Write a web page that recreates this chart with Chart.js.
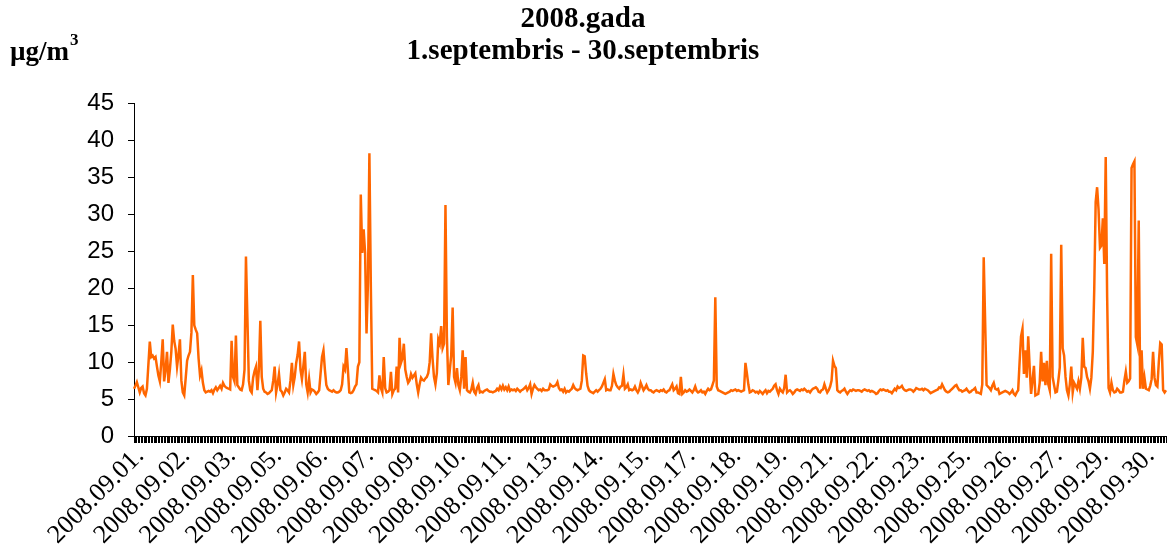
<!DOCTYPE html>
<html>
<head>
<meta charset="utf-8">
<script src="https://cdn.jsdelivr.net/npm/chart.js@4.4.1/dist/chart.umd.min.js"></script>
<style>
  body { margin: 0; background: #fff; }
  #wrap { width: 1168px; height: 544px; }
</style>
</head>
<body>
<div id="wrap"><canvas id="myChart"></canvas></div>
<script>
// hourly values, 1.-30. september 2008, one row per day (24 h)
var pm10 = [
  6.4, 6.8, 7.3, 6.6, 5.9, 6.5, 6.7, 5.8, 5.5, 6.4, 9.6, 12.8, 10.7, 10.9, 10.5, 10.7, 9.4, 8.2, 7.4, 10.0, 13.1, 7.4, 9.0, 11.4,
  7.2, 9.0, 11.4, 15.1, 12.9, 11.8, 9.4, 11.0, 13.1, 7.5, 5.9, 5.5, 7.8, 10.2, 10.9, 11.4, 14.0, 21.8, 15.0, 14.4, 13.9, 10.5, 8.2, 8.9,
  7.2, 6.2, 5.9, 6.0, 6.1, 6.0, 6.2, 5.8, 6.3, 6.6, 6.2, 6.5, 6.8, 6.4, 7.2, 6.8, 6.6, 6.5, 6.4, 6.3, 12.9, 8.0, 7.4, 13.6,
  6.9, 6.6, 6.3, 6.2, 7.0, 9.0, 24.3, 16.0, 7.5, 6.2, 5.9, 7.9, 8.8, 9.4, 6.2, 9.0, 15.6, 8.0, 6.4, 6.0, 5.9, 5.7, 5.8, 6.0,
  6.2, 7.5, 9.4, 5.9, 7.0, 8.4, 6.2, 6.0, 5.5, 5.9, 6.4, 6.2, 5.9, 7.5, 9.9, 6.9, 8.0, 9.9, 11.0, 12.8, 9.0, 7.7, 9.5, 11.4,
  7.0, 5.9, 7.7, 5.9, 6.3, 6.2, 6.0, 5.7, 5.9, 6.2, 8.5, 10.7, 11.6, 9.0, 6.9, 6.4, 6.2, 6.1, 6.0, 6.2, 6.0, 5.9, 5.9, 6.0,
  6.2, 7.0, 9.4, 9.0, 11.9, 9.0, 5.9, 5.8, 5.9, 6.2, 6.7, 7.0, 9.4, 10.0, 32.7, 24.8, 28.0, 24.8, 13.9, 20.8, 38.3, 20.3, 6.4, 6.3,
  6.2, 6.1, 5.9, 8.2, 6.5, 5.9, 10.7, 6.5, 5.9, 6.0, 6.2, 8.7, 5.7, 6.2, 6.4, 9.4, 5.9, 13.3, 9.9, 10.5, 12.5, 9.0, 8.0, 7.2,
  7.5, 8.4, 7.9, 8.2, 8.5, 7.0, 5.9, 7.0, 7.9, 7.6, 7.5, 7.8, 8.0, 8.5, 10.0, 13.9, 10.5, 8.0, 7.0, 8.5, 13.1, 12.5, 14.9, 11.9,
  12.5, 31.3, 13.4, 6.9, 8.9, 10.9, 17.4, 8.0, 7.2, 9.2, 6.9, 6.2, 8.0, 11.6, 6.4, 10.7, 6.2, 6.0, 5.9, 6.3, 7.2, 6.0, 5.7, 6.5,
  6.9, 5.9, 6.0, 5.9, 6.1, 6.2, 6.3, 6.1, 6.0, 6.0, 5.9, 6.0, 6.1, 6.4, 6.2, 6.7, 6.3, 6.8, 6.3, 6.6, 6.2, 6.7, 6.1, 6.3,
  6.2, 6.3, 6.1, 6.4, 6.2, 6.0, 6.2, 6.3, 6.5, 6.7, 6.2, 6.5, 7.0, 5.7, 6.4, 6.9, 6.6, 6.4, 6.2, 6.3, 6.1, 6.4, 6.2, 6.2,
  6.2, 6.3, 7.0, 6.8, 6.7, 6.8, 6.9, 7.3, 6.5, 6.2, 6.3, 6.0, 6.4, 5.9, 6.1, 6.0, 6.2, 6.4, 6.9, 6.5, 6.3, 6.2, 6.3, 6.4,
  7.5, 10.9, 10.8, 8.5, 6.8, 6.2, 6.0, 5.9, 5.8, 6.0, 6.2, 6.0, 6.2, 6.4, 6.7, 7.2, 7.7, 6.2, 6.3, 6.2, 6.2, 6.8, 8.4, 7.5,
  6.9, 6.6, 6.4, 6.7, 6.8, 8.3, 6.4, 6.6, 7.0, 6.2, 6.3, 6.2, 6.3, 6.7, 6.2, 5.9, 6.3, 7.2, 6.7, 6.2, 6.5, 6.9, 6.4, 6.2,
  6.2, 6.0, 5.9, 6.1, 6.2, 6.1, 6.0, 6.2, 6.1, 6.3, 6.0, 5.9, 6.1, 6.2, 6.6, 7.0, 6.2, 6.4, 6.7, 5.8, 5.7, 8.0, 5.7, 5.9,
  6.2, 6.0, 6.1, 6.3, 6.1, 5.9, 6.2, 6.7, 6.1, 5.9, 6.0, 6.2, 5.9, 6.0, 5.7, 6.1, 6.4, 6.2, 6.3, 6.9, 7.5, 18.8, 6.7, 6.2,
  6.1, 6.0, 5.9, 5.8, 5.7, 5.8, 5.9, 6.0, 6.2, 6.1, 6.2, 6.3, 6.1, 6.2, 6.1, 6.0, 6.1, 6.2, 9.9, 8.5, 7.0, 5.9, 6.0, 6.2,
  6.1, 5.9, 6.0, 5.8, 6.1, 5.9, 5.7, 6.0, 6.2, 5.8, 6.1, 6.0, 6.2, 6.4, 6.8, 7.0, 6.2, 5.7, 6.4, 6.1, 5.9, 6.5, 8.3, 5.9,
  6.1, 6.2, 6.0, 5.7, 5.9, 6.2, 6.3, 6.2, 6.1, 6.3, 6.2, 6.4, 6.2, 6.0, 6.1, 5.9, 6.2, 6.4, 6.5, 6.6, 6.4, 6.0, 5.9, 6.2,
  6.3, 7.0, 6.4, 5.9, 6.2, 6.7, 7.5, 10.2, 9.5, 9.2, 6.2, 6.0, 5.9, 6.1, 6.2, 6.4, 6.0, 5.7, 6.0, 6.2, 6.1, 6.3, 6.2, 6.1,
  6.2, 6.2, 6.1, 6.0, 6.2, 6.3, 6.2, 6.1, 6.2, 6.0, 6.1, 6.0, 5.9, 5.7, 5.8, 6.1, 6.3, 6.2, 6.3, 6.2, 6.1, 6.2, 6.0, 6.0,
  5.8, 6.1, 6.4, 6.2, 6.7, 6.5, 6.6, 6.8, 6.4, 6.2, 6.1, 6.2, 6.3, 6.3, 6.2, 6.0, 6.2, 6.5, 6.4, 6.3, 6.3, 6.4, 6.2, 6.4,
  6.3, 6.2, 6.0, 5.8, 5.9, 6.0, 6.1, 6.2, 6.3, 6.6, 6.5, 7.0, 6.6, 6.2, 6.0, 5.9, 6.0, 6.2, 6.4, 6.6, 6.8, 6.9, 6.5, 6.2,
  6.2, 6.0, 6.1, 6.2, 6.4, 6.1, 5.9, 6.0, 6.2, 6.3, 6.5, 5.9, 5.9, 5.8, 5.7, 7.0, 24.2, 15.4, 6.9, 6.7, 6.5, 6.2, 6.8, 7.2,
  6.4, 6.3, 6.4, 5.7, 5.8, 5.9, 6.0, 6.1, 6.0, 5.9, 5.7, 5.9, 6.2, 5.7, 5.5, 5.9, 6.2, 10.0, 13.5, 14.5, 8.4, 11.6, 7.9, 13.5,
  9.4, 5.7, 7.5, 9.5, 5.5, 5.6, 5.7, 7.2, 11.4, 7.4, 9.9, 6.9, 10.2, 7.0, 6.2, 24.7, 8.0, 6.9, 5.9, 6.0, 7.5, 9.3, 25.9, 11.9,
  10.9, 8.0, 6.2, 5.5, 7.0, 9.4, 5.9, 7.2, 6.8, 6.4, 7.4, 6.4, 7.9, 13.3, 9.4, 9.2, 8.0, 7.4, 6.4, 7.9, 11.4, 19.8, 31.7, 33.7,
  30.7, 25.5, 25.8, 29.5, 23.3, 37.8, 18.8, 6.5, 5.9, 7.2, 6.2, 5.9, 6.0, 6.4, 6.2, 5.9, 5.9, 6.0, 7.5, 8.7, 7.2, 7.4, 7.8, 36.3,
  36.8, 37.2, 13.4, 12.4, 29.2, 6.4, 11.6, 6.4, 7.9, 6.4, 6.3, 6.2, 6.8, 7.7, 11.4, 7.9, 6.9, 6.7, 10.0, 12.6, 12.4, 6.2, 5.9, 6.2
];

var dayCount = 30;
var hoursPerDay = 24;
var labelEvery = 32;   // a date label on every 32nd hour
var yTicks = [0, 5, 10, 15, 20, 25, 30, 35, 40, 45];
var titleLines = ['2008.gada', '1.septembris - 30.septembris'];

// category labels, one per hour
var labels = [];
for (var d = 1; d <= dayCount; d++) {
  var dd = d < 10 ? '0' + d : '' + d;
  for (var h = 0; h < hoursPerDay; h++) {
    labels.push('2008.09.' + dd + '.');
  }
}

// unit text top left
var unitLabel = {
  id: 'unitLabel',
  afterDraw: function(chart) {
    var ctx = chart.ctx;
    ctx.save();
    ctx.fillStyle = '#000';
    ctx.textBaseline = 'alphabetic';
    ctx.textAlign = 'left';
    ctx.font = 'bold 27px "Liberation Serif"';
    ctx.fillText('\u00b5g/m', 10, 60);
    var w = ctx.measureText('\u00b5g/m').width;
    ctx.font = 'bold 17px "Liberation Serif"';
    ctx.fillText('3', 10 + w + 1, 45);
    ctx.restore();
  }
};

var ctx = document.getElementById('myChart').getContext('2d');
var myChart = new Chart(ctx, {
  type: 'line',
  data: {
    labels: labels,
    datasets: [{
      data: pm10,
      borderColor: '#ff6600',
      borderWidth: 2.5,
      pointRadius: 0,
      tension: 0,
      fill: false
    }]
  },
  options: {
    responsive: true,
    maintainAspectRatio: false,
    animation: false,
    layout: {
      padding: { top: 0, right: 2, bottom: 0, left: 0 }
    },
    plugins: {
      legend: { display: false },
      tooltip: { enabled: false },
      title: {
        display: true,
        text: titleLines,
        color: '#000',
        font: { family: 'Liberation Serif', size: 29, weight: 'bold', lineHeight: 1.1 },
        padding: { top: 4, bottom: 36 }
      }
    },
    scales: {
      x: {
        type: 'category',
        offset: false,
        grid: {
          display: true,
          drawOnChartArea: false,
          drawTicks: true,
          tickLength: 7,
          color: '#000',
          lineWidth: 1
        },
        border: { display: true, color: '#000', width: 1 },
        ticks: {
          autoSkip: false,
          minRotation: 45,
          maxRotation: 45,
          color: '#000',
          padding: -2,
          labelOffset: 6,
          font: { family: 'Liberation Serif', size: 26 },
          callback: function(value, index) {
            return index % labelEvery === 0 ? this.getLabelForValue(value) : '';
          }
        },
        afterFit: function(scale) {
          scale.height = 108;
          scale.paddingRight = 0;
        }
      },
      y: {
        min: 0,
        max: 45,
        afterBuildTicks: function(scale) {
          scale.ticks = yTicks.map(function(v) { return { value: v }; });
        },
        grid: {
          display: true,
          drawOnChartArea: false,
          drawTicks: true,
          tickLength: 6,
          color: '#000'
        },
        border: { display: true, color: '#000', width: 1 },
        ticks: {
          color: '#000',
          padding: 14,
          font: { family: 'Liberation Sans', size: 24 }
        },
        afterFit: function(scale) {
          scale.width = 134;
        }
      }
    }
  },
  plugins: [unitLabel]
});
</script>
</body>
</html>
